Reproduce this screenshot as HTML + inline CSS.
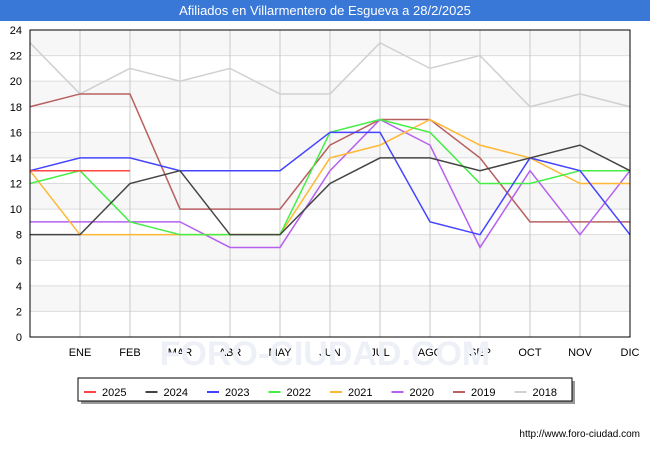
<!DOCTYPE html>
<html><head><meta charset="utf-8"><style>
body{margin:0;background:#fff;font-family:"Liberation Sans",sans-serif}
#c{position:relative;width:650px;height:450px}
</style></head><body>
<div id="c">
<svg id="s" width="650" height="450" xmlns="http://www.w3.org/2000/svg" font-family="Liberation Sans, sans-serif">
<rect x="0" y="0" width="650" height="21" fill="#3a78d8"/>
<text x="325" y="15" text-anchor="middle" fill="#fff" font-size="13">Afiliados en Villarmentero de Esgueva a 28/2/2025</text>
<g id="plot"></g>
<text x="325" y="365" text-anchor="middle" font-size="34" fill="#eef0f8" font-weight="bold">FORO-CIUDAD.COM</text>
<g id="legend"></g>
<text x="640" y="437" text-anchor="end" font-size="10" fill="#000">http://www.foro-ciudad.com</text>
</svg>
</div>
<script>
const months=["","ENE","FEB","MAR","ABR","MAY","JUN","JUL","AGO","SEP","OCT","NOV","DIC"];
const yTicks=[0,2,4,6,8,10,12,14,16,18,20,22,24];
const seriesNames=["2025","2024","2023","2022","2021","2020","2019","2018"];
const seriesColors=["#ff4444","#444444","#4444ff","#44ee44","#ffb833","#b660f0","#b86060","#d0d0d0"];
const s2018=[23,19,21,20,21,19,19,23,21,22,18,19,18];
const s2019=[18,19,19,10,10,10,15,17,17,14,9,9,9];
const s2020=[9,9,9,9,7,7,13,17,15,7,13,8,13];
const s2021=[13,8,8,8,8,8,14,15,17,15,14,12,12];
const s2022=[12,13,9,8,8,8,16,17,16,12,12,13,13];
const s2023=[13,14,14,13,13,13,16,16,9,8,14,13,8];
const s2024=[8,8,12,13,8,8,12,14,14,13,14,15,13];
const s2025=[13,13,13];
const NS="http://www.w3.org/2000/svg";
const X0=30,X1=630,Y0=337,Y1=30;
const xs=i=>X0+i*(X1-X0)/12;
const ys=v=>Y0-v*(Y0-Y1)/24;
const plot=document.getElementById('plot');
function mk(t,a,p){const e=document.createElementNS(NS,t);for(const k in a)e.setAttribute(k,a[k]);p.appendChild(e);return e;}
mk('rect',{x:X0,y:Y1,width:X1-X0,height:Y0-Y1,fill:'#fff'},plot);
for(let i=0;i<12;i++){if(i%2===1){const b=mk('rect',{x:X0,y:ys(2*i+2),width:X1-X0,height:ys(0)-ys(2),fill:'#f7f7f7'},plot);

}}
yTicks.forEach(v=>{const l=mk('line',{x1:X0,x2:X1,y1:ys(v),y2:ys(v),stroke:'#dcdcdc'},plot);


const t=mk('text',{x:X0-8,y:ys(v)+4,'text-anchor':'end','font-size':'11',fill:'#000'},plot);t.textContent=v;

});
months.forEach((m,i)=>{if(i>0){const l=mk('line',{x1:xs(i),x2:xs(i),y1:Y1,y2:Y0,stroke:'#c8c8c8'},plot);

}
const t=mk('text',{x:xs(i),y:Y0+19,'text-anchor':'middle','font-size':'11',fill:'#000'},plot);t.textContent=m;

});
const all=[s2025,s2024,s2023,s2022,s2021,s2020,s2019,s2018];
for(let k=all.length-1;k>=0;k--){const d=all[k];
const p=mk('polyline',{points:d.map((v,i)=>xs(i)+','+ys(v)).join(' '),fill:'none',stroke:seriesColors[k],'stroke-width':'1.5'},plot);

}
const fr=mk('rect',{x:X0,y:Y1,width:X1-X0,height:Y0-Y1,fill:'none',stroke:'#000'},plot);


const lg=document.getElementById('legend');
mk('rect',{x:81,y:381,width:494,height:23,fill:'#999'},lg);
const lb=mk('rect',{x:78,y:378,width:494,height:23,fill:'#fff',stroke:'#000'},lg);


seriesNames.forEach((n,i)=>{const x=84+i*61.5;
const g=mk('g',{},lg);


mk('line',{x1:x,x2:x+12,y1:392,y2:392,stroke:seriesColors[i],'stroke-width':'2'},g);
const t=mk('text',{x:x+18,y:396,'font-size':'11',fill:'#000'},g);t.textContent=n;});
</script>
</body></html>
